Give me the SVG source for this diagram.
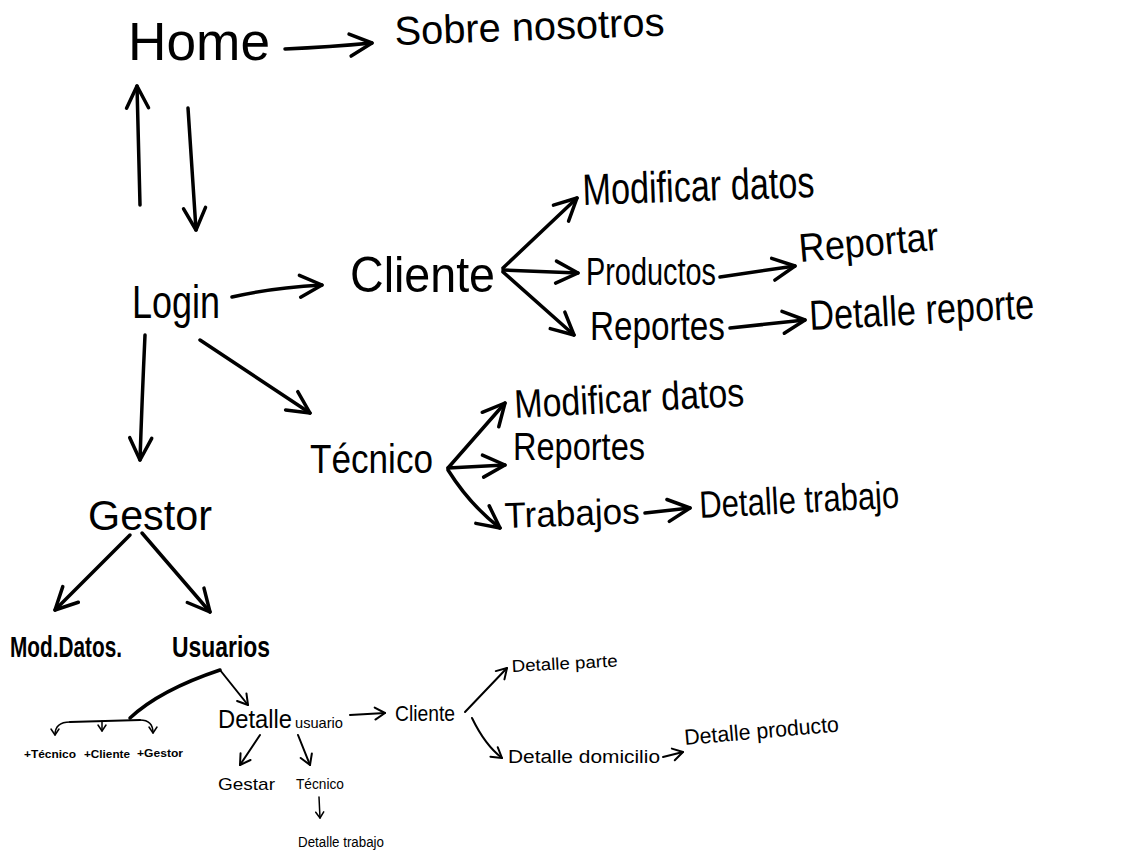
<svg xmlns="http://www.w3.org/2000/svg" width="1122" height="861" viewBox="0 0 1122 861">
<style>
text{font-family:"Liberation Sans","DejaVu Sans",sans-serif;fill:#000}
.c path{fill:none;stroke:#000;stroke-linecap:round;stroke-linejoin:round}
.b{stroke-width:3.5;marker-end:url(#big)}
.m{stroke-width:2;marker-end:url(#mid)}
.s{stroke-width:1.5;marker-end:url(#sm)}
.n{stroke-width:2}
</style>
<defs>
<marker id="big" markerUnits="userSpaceOnUse" markerWidth="40" markerHeight="40" refX="0" refY="0" orient="auto" overflow="visible"><path d="M-22,-11 L0,0 L-22,11" fill="none" stroke="#000" stroke-width="3.5" stroke-linecap="round" stroke-linejoin="round"/></marker>
<marker id="mid" markerUnits="userSpaceOnUse" markerWidth="20" markerHeight="20" refX="0" refY="0" orient="auto" overflow="visible"><path d="M-10,-6 L0,0 L-10,6" fill="none" stroke="#000" stroke-width="2" stroke-linecap="round" stroke-linejoin="round"/></marker>
<marker id="sm" markerUnits="userSpaceOnUse" markerWidth="12" markerHeight="12" refX="0" refY="0" orient="auto" overflow="visible"><path d="M-6,-4 L0,0 L-6,4" fill="none" stroke="#000" stroke-width="1.5" stroke-linecap="round" stroke-linejoin="round"/></marker>
</defs>
<rect width="1122" height="861" fill="#fff"/>
<g id="connectors" class="c">
<path class="b" d="M285,49 Q330,47 372,43"/>
<path class="b" d="M140,205 L137,86"/>
<path class="b" d="M188,108 L196,230"/>
<path class="b" d="M232,297 Q270,288 322,285"/>
<path class="b" d="M503,268 L577,198"/>
<path class="b" d="M503,270 L578,273"/>
<path class="b" d="M503,272 L574,335"/>
<path class="b" d="M720,277 L795,266"/>
<path class="b" d="M730,328 L805,320"/>
<path class="b" d="M200,340 L310,413"/>
<path class="b" d="M145,335 Q142,400 140,460"/>
<path class="b" d="M448,468 L505,403"/>
<path class="b" d="M448,468 L505,465"/>
<path class="b" d="M448,470 Q470,505 500,528"/>
<path class="b" d="M645,513 L690,508"/>
<path class="b" d="M130,535 L55,610"/>
<path class="b" d="M142,533 L210,612"/>
<path class="m" d="M220,670 L248,705"/>
<path class="n" style="stroke-width:3.5" d="M220,670 Q160,690 130,718"/>
<path class="s" d="M70,722 Q55,722 55,735"/>
<path class="n" d="M70,722 L140,720"/>
<path class="s" d="M140,720 Q153,720 153,733"/>
<path class="s" d="M102,721 L102,731"/>
<path class="m" d="M350,715 L385,713"/>
<path class="m" d="M465,712 L507,668"/>
<path class="m" d="M472,718 Q485,745 502,758"/>
<path class="m" d="M663,757 L683,752"/>
<path class="m" d="M260,735 L240,765"/>
<path class="m" d="M298,735 L310,765"/>
<path class="s" d="M319,797 L320,818"/>
</g>
<g id="home"><text x="128" y="60" font-size="54" textLength="142" lengthAdjust="spacingAndGlyphs">Home</text></g>
<g id="sobre-nosotros"><text x="395" y="45" font-size="40" textLength="270" lengthAdjust="spacingAndGlyphs" transform="rotate(-2 395 45)">Sobre nosotros</text></g>
<g id="login"><text x="132" y="318" font-size="46" textLength="88" lengthAdjust="spacingAndGlyphs">Login</text></g>
<g id="cliente"><text x="350" y="292" font-size="50" textLength="145" lengthAdjust="spacingAndGlyphs">Cliente</text></g>
<g id="cliente-modificar"><text x="583" y="205" font-size="44" textLength="232" lengthAdjust="spacingAndGlyphs" transform="rotate(-2 583 205)">Modificar datos</text></g>
<g id="productos"><text x="586" y="285" font-size="38" textLength="130" lengthAdjust="spacingAndGlyphs">Productos</text></g>
<g id="reportar"><text x="800" y="262" font-size="40" textLength="140" lengthAdjust="spacingAndGlyphs" transform="rotate(-5 800 262)">Reportar</text></g>
<g id="cliente-reportes"><text x="590" y="340" font-size="40" textLength="135" lengthAdjust="spacingAndGlyphs">Reportes</text></g>
<g id="detalle-reporte"><text x="810" y="330" font-size="42" textLength="225" lengthAdjust="spacingAndGlyphs" transform="rotate(-3 810 330)">Detalle reporte</text></g>
<g id="tecnico"><text x="310" y="473" font-size="40" textLength="123" lengthAdjust="spacingAndGlyphs">Técnico</text></g>
<g id="tecnico-modificar"><text x="515" y="418" font-size="40" textLength="230" lengthAdjust="spacingAndGlyphs" transform="rotate(-3 515 418)">Modificar datos</text></g>
<g id="tecnico-reportes"><text x="513" y="460" font-size="38" textLength="132" lengthAdjust="spacingAndGlyphs">Reportes</text></g>
<g id="trabajos"><text x="505" y="528" font-size="36" textLength="135" lengthAdjust="spacingAndGlyphs" transform="rotate(-2 505 528)">Trabajos</text></g>
<g id="detalle-trabajo"><text x="700" y="518" font-size="38" textLength="200" lengthAdjust="spacingAndGlyphs" transform="rotate(-3 700 518)">Detalle trabajo</text></g>
<g id="gestor"><text x="88" y="530" font-size="42" textLength="124" lengthAdjust="spacingAndGlyphs">Gestor</text></g>
<g id="mod-datos"><text x="10" y="657" font-size="30" font-weight="bold" textLength="112" lengthAdjust="spacingAndGlyphs">Mod.Datos.</text></g>
<g id="usuarios"><text x="172" y="657" font-size="30" font-weight="bold" textLength="98" lengthAdjust="spacingAndGlyphs">Usuarios</text></g>
<g id="add-tecnico"><text x="24" y="758" font-size="11" font-weight="bold" textLength="52" lengthAdjust="spacingAndGlyphs">+Técnico</text></g>
<g id="add-cliente"><text x="84" y="758" font-size="11" font-weight="bold" textLength="46" lengthAdjust="spacingAndGlyphs">+Cliente</text></g>
<g id="add-gestor"><text x="137" y="757" font-size="11" font-weight="bold" textLength="46" lengthAdjust="spacingAndGlyphs">+Gestor</text></g>
<g id="detalle-usuario"><text x="218" y="728" font-size="26" textLength="74" lengthAdjust="spacingAndGlyphs">Detalle</text><text x="295" y="728" font-size="15" textLength="48" lengthAdjust="spacingAndGlyphs">usuario</text></g>
<g id="du-cliente"><text x="395" y="721" font-size="22" textLength="60" lengthAdjust="spacingAndGlyphs">Cliente</text></g>
<g id="detalle-parte"><text x="512" y="672" font-size="17" textLength="106" lengthAdjust="spacingAndGlyphs" transform="rotate(-3 512 672)">Detalle parte</text></g>
<g id="detalle-domicilio"><text x="508" y="763" font-size="18" textLength="152" lengthAdjust="spacingAndGlyphs">Detalle domicilio</text></g>
<g id="detalle-producto"><text x="685" y="745" font-size="22" textLength="155" lengthAdjust="spacingAndGlyphs" transform="rotate(-5 685 745)">Detalle producto</text></g>
<g id="du-gestar"><text x="218" y="790" font-size="17" textLength="57" lengthAdjust="spacingAndGlyphs">Gestar</text></g>
<g id="du-tecnico"><text x="296" y="789" font-size="14" textLength="48" lengthAdjust="spacingAndGlyphs">Técnico</text></g>
<g id="du-detalle-trabajo"><text x="298" y="847" font-size="14" textLength="86" lengthAdjust="spacingAndGlyphs">Detalle trabajo</text></g>
</svg>
